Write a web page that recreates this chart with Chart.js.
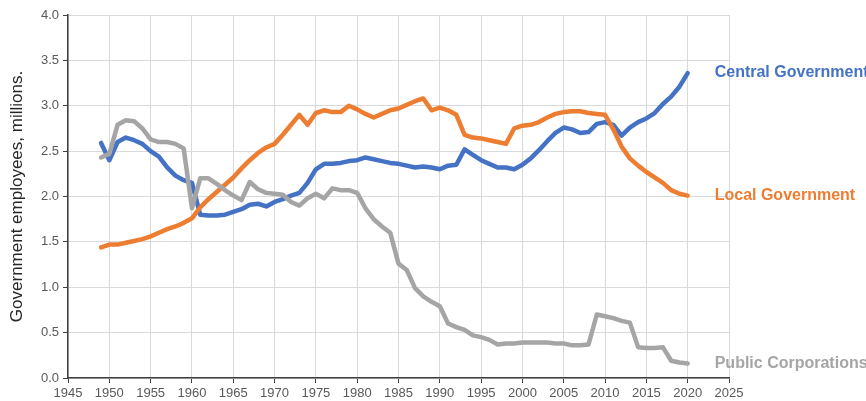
<!DOCTYPE html>
<html>
<head>
<meta charset="utf-8">
<title>Government employees</title>
<script src="https://cdn.jsdelivr.net/npm/chart.js@4"></script>
<style>
    html, body { margin: 0; padding: 0; background: #fff; }
    #wrap { width: 866px; height: 401px; position: relative; }
</style>
</head>
<body>
<div id="wrap"><canvas id="employeesChart"></canvas></div>
<script>
// Years 1949 - 2020
const years = Array.from({ length: 72 }, (_, i) => 1949 + i);

// Employees, millions
const centralGov = [
    2.59, 2.40, 2.60, 2.65, 2.62, 2.58, 2.50, 2.44, 2.32, 2.23,
    2.18, 2.15, 1.80, 1.79, 1.79, 1.80, 1.83, 1.86, 1.91, 1.92,
    1.89, 1.94, 1.97, 2.01, 2.04, 2.15, 2.30, 2.36, 2.36, 2.37,
    2.39, 2.40, 2.43, 2.41, 2.39, 2.37, 2.36, 2.34, 2.32, 2.33,
    2.32, 2.30, 2.34, 2.35, 2.52, 2.46, 2.40, 2.36, 2.32, 2.32,
    2.30, 2.35, 2.42, 2.51, 2.61, 2.70, 2.76, 2.74, 2.70, 2.71,
    2.80, 2.82, 2.79, 2.67, 2.76, 2.82, 2.86, 2.92, 3.02, 3.10,
    3.21, 3.36
];
const localGov = [
    1.44, 1.47, 1.47, 1.49, 1.51, 1.53, 1.56, 1.60, 1.64, 1.67,
    1.71, 1.76, 1.88, 1.97, 2.05, 2.13, 2.21, 2.31, 2.40, 2.48,
    2.54, 2.58, 2.68, 2.79, 2.90, 2.79, 2.92, 2.95, 2.93, 2.93,
    3.00, 2.96, 2.91, 2.87, 2.91, 2.95, 2.97, 3.01, 3.05, 3.08,
    2.95, 2.98, 2.95, 2.90, 2.68, 2.65, 2.64, 2.62, 2.60, 2.58,
    2.75, 2.78, 2.79, 2.82, 2.87, 2.91, 2.93, 2.94, 2.94, 2.92,
    2.91, 2.90, 2.74, 2.55, 2.42, 2.34, 2.27, 2.21, 2.15, 2.07,
    2.03, 2.01
];
const publicCorp = [
    2.43, 2.47, 2.79, 2.84, 2.83, 2.75, 2.63, 2.60, 2.60, 2.58,
    2.53, 1.87, 2.20, 2.20, 2.14, 2.07, 2.01, 1.96, 2.16, 2.08,
    2.04, 2.03, 2.02, 1.94, 1.90, 1.98, 2.03, 1.98, 2.09, 2.07,
    2.07, 2.04, 1.87, 1.75, 1.67, 1.60, 1.26, 1.19, 0.99, 0.90,
    0.84, 0.79, 0.60, 0.56, 0.53, 0.47, 0.45, 0.42, 0.37, 0.38,
    0.38, 0.39, 0.39, 0.39, 0.39, 0.38, 0.38, 0.36, 0.36, 0.37,
    0.70, 0.68, 0.66, 0.63, 0.61, 0.34, 0.33, 0.33, 0.34, 0.19,
    0.17, 0.16
];

const seriesNames = ["Central Government", "Local Government", "Public Corporations"];
const seriesColors = ["#4472C4", "#ED7D31", "#A5A5A5"];

const FONT = "'Liberation Sans', Arial, sans-serif";

function toPoints(values) {
    return years.map((yr, i) => ({ x: yr, y: values[i] }));
}

// Series name written next to the last point of each line
const endLabels = {
    id: "endLabels",
    afterDatasetsDraw(chart) {
        const ctx = chart.ctx;
        ctx.save();
        ctx.font = "bold 16px " + FONT;
        ctx.textBaseline = "middle";
        ctx.textAlign = "left";
        chart.data.datasets.forEach((ds, i) => {
            const pts = chart.getDatasetMeta(i).data;
            const last = pts[pts.length - 1];
            ctx.fillStyle = ds.borderColor;
            ctx.fillText(ds.label, last.x + 27, last.y);
        });
        ctx.restore();
    }
};

const lineStyle = {
    borderWidth: 4.5,
    pointRadius: 0,
    borderJoinStyle: "round",
    borderCapStyle: "round",
    tension: 0,
    fill: false
};

new Chart(document.getElementById("employeesChart"), {
    type: "line",
    data: {
        datasets: [
            { ...lineStyle, label: seriesNames[0], data: toPoints(centralGov), borderColor: seriesColors[0], order: 2 },
            { ...lineStyle, label: seriesNames[1], data: toPoints(localGov), borderColor: seriesColors[1], order: 1 },
            { ...lineStyle, label: seriesNames[2], data: toPoints(publicCorp), borderColor: seriesColors[2], order: 0 }
        ]
    },
    options: {
        responsive: true,
        maintainAspectRatio: false,
        animation: false,
        layout: {
            padding: { top: 15, right: 137, bottom: 0, left: 0 }
        },
        plugins: {
            legend: { display: false },
            tooltip: { enabled: false }
        },
        scales: {
            x: {
                type: "linear",
                min: 1945,
                max: 2025,
                afterFit: scale => { scale.height = 23; },
                ticks: {
                    stepSize: 5,
                    padding: 3,
                    color: "#595959",
                    font: { family: FONT, size: 13 },
                    callback: value => String(value)
                },
                grid: {
                    color: "#d9d9d9",
                    lineWidth: 1,
                    tickLength: 5,
                    tickColor: "#404040"
                },
                border: { color: "#404040", width: 1.5 }
            },
            y: {
                min: 0,
                max: 4,
                afterFit: scale => { scale.width = 68; },
                ticks: {
                    stepSize: 0.5,
                    padding: 4,
                    color: "#595959",
                    font: { family: FONT, size: 13 },
                    callback: value => value.toFixed(1)
                },
                grid: {
                    color: "#d9d9d9",
                    lineWidth: 1,
                    tickLength: 5,
                    tickColor: "#404040"
                },
                border: { color: "#404040", width: 1.5 },
                title: {
                    display: true,
                    text: "Government employees, millions.",
                    color: "#262626",
                    font: { family: FONT, size: 17 },
                    padding: { top: 7, bottom: 0 }
                }
            }
        }
    },
    plugins: [endLabels]
});
</script>
</body>
</html>
